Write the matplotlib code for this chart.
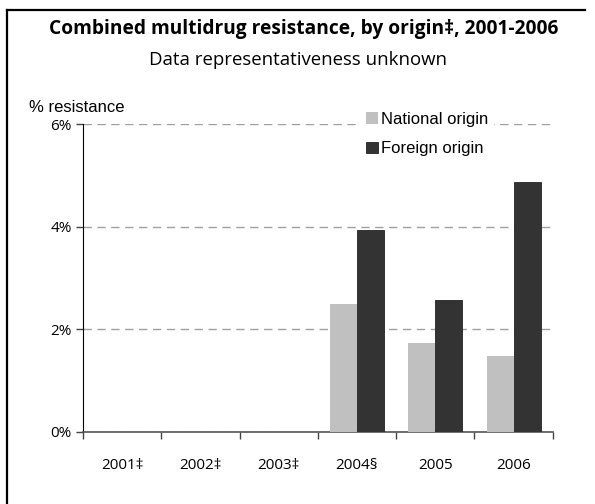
import matplotlib.pyplot as plt
import matplotlib.lines as mlines
import numpy as np

# values (percent)
years = ['2001‡', '2002‡', '2003‡', '2004§', '2005', '2006']
national = [np.nan, np.nan, np.nan, 2.49, 1.74, 1.48]
foreign = [np.nan, np.nan, np.nan, 3.94, 2.58, 4.87]
yticks = [0, 2, 4, 6]
ytick_labels = ['0%', '2%', '4%', '6%']

fig = plt.figure(figsize=(5.95, 5.04), dpi=100)
ax = fig.add_axes([0.1395, 0.1429, 0.7895, 0.611])

x = np.arange(len(years))
w = 0.345
ax.bar(x - w / 2, national, w, color='#c0c0c0', label='National origin', zorder=3)
ax.bar(x + w / 2, foreign, w, color='#333333', edgecolor='#222222', linewidth=0.6,
       label='Foreign origin', zorder=3)

ax.set_xlim(-0.5, len(years) - 0.5)
ax.set_ylim(0, 6)
ax.set_yticks(yticks)
ax.set_yticklabels(ytick_labels, fontfamily='Open Sans', fontsize=11)
ax.set_xticks(x)
ax.set_xticklabels(years, fontfamily='Open Sans', fontsize=11)
ax.tick_params(axis='x', length=0, pad=19)
ax.set_xticks(np.arange(len(years) + 1) - 0.5, minor=True)
ax.tick_params(axis='x', which='minor', length=5, color='#444444', width=1)
ax.tick_params(axis='y', length=5, color='#444444', width=1, pad=3)

ax.yaxis.grid(True, linestyle=(0, (6, 4)), color='#a0a0a0', linewidth=1, zorder=0)
for s in ['top', 'right']:
    ax.spines[s].set_visible(False)
ax.spines['left'].set_color('black')
ax.spines['bottom'].set_color('#555555')
ax.spines['bottom'].set_linewidth(1.2)

leg = ax.legend(loc='upper left', bbox_to_anchor=(0.575, 1.082), frameon=True,
                facecolor='white', edgecolor='none', framealpha=1, fancybox=False,
                prop={'family': 'Liberation Sans', 'size': 12},
                handlelength=0.7, handleheight=0.7, handletextpad=0.2,
                labelspacing=0.85, borderpad=0.3)
leg.set_zorder(5)

fig.text(0.51, 0.942, 'Combined multidrug resistance, by origin‡, 2001-2006',
         ha='center', va='center', fontfamily='Open Sans', fontweight='bold', fontsize=13.8)
fig.text(0.501, 0.880, 'Data representativeness unknown',
         ha='center', va='center', fontfamily='Open Sans', fontsize=13.4)
fig.text(0.049, 0.787, '% resistance', ha='left', va='center',
         fontfamily='Liberation Sans', fontsize=12)

# frame around the chart (only top and left edges show in the reference)
fig.add_artist(mlines.Line2D([7 / 595, 585 / 595], [1 - 10 / 504, 1 - 10 / 504],
                             color='black', linewidth=1.6, transform=fig.transFigure))
fig.add_artist(mlines.Line2D([7 / 595, 7 / 595], [0, 1 - 10 / 504],
                             color='black', linewidth=1.6, transform=fig.transFigure))

fig.savefig('out.png', dpi=100)
